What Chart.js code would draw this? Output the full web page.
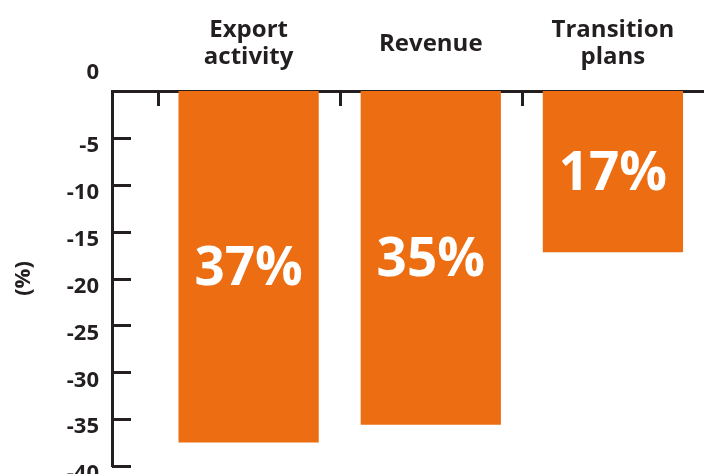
<!DOCTYPE html>
<html>
<head>
<meta charset="utf-8">
<script src="https://cdn.jsdelivr.net/npm/chart.js@4.4.1/dist/chart.umd.min.js"></script>
<style>
  html, body { margin: 0; padding: 0; background: #fff; overflow: hidden; }
  #wrap { position: relative; width: 704px; height: 474px; }
</style>
</head>
<body>
<div id="wrap"><canvas id="chart"></canvas></div>
<script>
const categories = [['Export', 'activity'], ['Revenue'], ['Transition', 'plans']];
const changes = [-37.5, -35.6, -17.2];
const valueLabels = ['37%', '35%', '17%'];
const yMin = -40, yMax = 0, yStep = 5;
const axisTitle = '(%)';

const INK = '#231f20';
const ORANGE = '#ed6d13';
const FONT = "'Open Sans', sans-serif";

// short tick marks pointing into the plot, like the original
const innerTicks = {
  id: 'innerTicks',
  afterDraw(chart) {
    const { ctx, scales: { x, y } } = chart;
    ctx.save();
    ctx.strokeStyle = INK;
    ctx.lineWidth = 3;
    ctx.beginPath();
    y.ticks.forEach(t => {
      if (t.value === yMax) return;
      const py = Math.round(y.getPixelForValue(t.value)) + 0.5;
      ctx.moveTo(x.left, py);
      ctx.lineTo(x.left + 19, py);
    });
    categories.forEach((_, i) => {
      const px = Math.round(x.getPixelForValue(i + 0.5)) + 0.5;
      ctx.moveTo(px, y.top);
      ctx.lineTo(px, y.top + 15);
    });
    ctx.stroke();
    ctx.restore();
  }
};

// big white percentages inside the bars
const barLabels = {
  id: 'barLabels',
  afterDatasetsDraw(chart) {
    const { ctx } = chart;
    const meta = chart.getDatasetMeta(0);
    ctx.save();
    ctx.fillStyle = '#fff';
    ctx.font = `700 53px ${FONT}`;
    ctx.textAlign = 'center';
    ctx.textBaseline = 'middle';
    meta.data.forEach((bar, i) => {
      ctx.fillText(valueLabels[i], bar.x, (bar.y + bar.base) / 2 + 3);
    });
    ctx.restore();
  }
};

new Chart(document.getElementById('chart'), {
  type: 'bar',
  data: {
    datasets: [{
      data: changes.map((v, i) => ({ x: i + 1, y: v })),
      backgroundColor: ORANGE,
      barPercentage: 0.77,
      categoryPercentage: 1,
    }],
  },
  options: {
    responsive: true,
    maintainAspectRatio: false,
    animation: false,
    layout: { padding: { bottom: 8 } },
    plugins: {
      legend: { display: false },
      tooltip: { enabled: false },
    },
    scales: {
      x: {
        type: 'linear',
        position: 'top',
        min: 0.25,
        max: 3.5,
        offset: false,
        afterBuildTicks: s => { s.ticks = categories.map((_, i) => ({ value: i + 1 })); },
        afterFit: s => { s.height = 91; s.paddingLeft = 0; s.paddingRight = 0; },
        grid: { display: false, drawTicks: false, offset: false },
        border: { display: true, color: INK, width: 3 },
        ticks: {
          padding: 34,
          color: INK,
          autoSkip: false,
          maxRotation: 0,
          crossAlign: 'center',
          font: { family: FONT, size: 24, weight: '700', lineHeight: 1.1 },
          callback: v => categories[v - 1] || '',
        },
      },
      y: {
        min: yMin,
        max: yMax,
        afterFit: s => { s.width = 112; s.paddingTop = 0; s.paddingBottom = 0; },
        grid: { display: false, drawTicks: false },
        border: { display: true, color: INK, width: 3 },
        ticks: {
          stepSize: yStep,
          autoSkip: false,
          padding: 13,
          labelOffset: 8,
          color: INK,
          font: { family: FONT, size: 22, weight: '700' },
          // the zero sits well above the axis in the original
          callback: v => v === 0 ? ['0', '', ''] : String(v),
        },
        title: {
          display: true,
          text: axisTitle,
          color: INK,
          font: { family: FONT, size: 22, weight: '700' },
          padding: { top: 11, bottom: 0 },
        },
      },
    },
  },
  plugins: [innerTicks, barLabels],
});
</script>
</body>
</html>
